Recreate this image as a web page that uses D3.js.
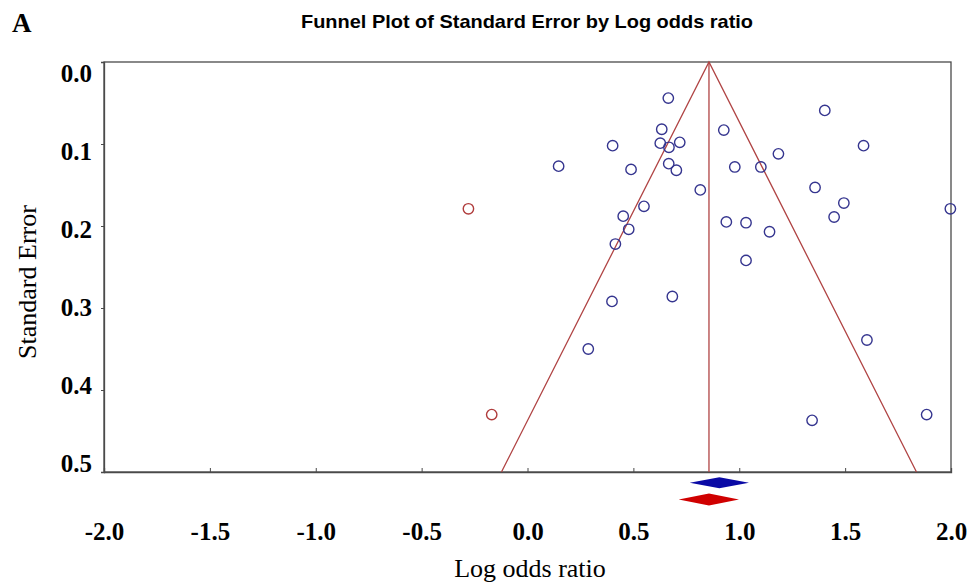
<!DOCTYPE html>
<html>
<head>
<meta charset="utf-8">
<script src="https://cdn.jsdelivr.net/npm/d3@7"></script>
<style>
    body { margin: 0; background: #fff; }
    svg { display: block; }
</style>
</head>
<body>
<div id="chart"></div>
<script>
// observed studies (blue circles)
const studyLogOR = [0.665, 0.634, 0.927, 0.402, 0.627, 0.668, 0.719, 0.147, 0.489, 0.667,
    0.703, 0.816, 1.404, 1.587, 1.185, 0.979, 1.102, 1.358, 1.494, 1.997,
    1.448, 0.939, 1.032, 1.143, 0.550, 0.452, 0.478, 0.415, 1.032, 0.399,
    0.684, 0.287, 1.603, 1.344, 1.885];
const studySE = [0.044, 0.082, 0.083, 0.102, 0.099, 0.104, 0.098, 0.127, 0.131, 0.124,
    0.132, 0.156, 0.059, 0.102, 0.112, 0.128, 0.128, 0.153, 0.172, 0.179,
    0.189, 0.195, 0.196, 0.207, 0.176, 0.188, 0.204, 0.222, 0.242, 0.292,
    0.286, 0.350, 0.339, 0.437, 0.430];
// imputed studies (red circles)
const imputedLogOR = [-0.279, -0.169];
const imputedSE = [0.179, 0.430];
// summary effects: [lower, point, upper]
const observedSummary = [0.766, 0.906, 1.046];
const adjustedSummary = [0.714, 0.857, 0.999];

const xTicks = [-2.0, -1.5, -1.0, -0.5, 0.0, 0.5, 1.0, 1.5, 2.0];
const yTicks = [0.0, 0.1, 0.2, 0.3, 0.4, 0.5];

const width = 972, height = 583;
const margin = {top: 62, right: 21, bottom: 111, left: 104};

const svg = d3.select("#chart").append("svg")
    .attr("width", width)
    .attr("height", height);

const x = d3.scaleLinear().domain([-2, 2]).range([margin.left, width - margin.right]);
const y = d3.scaleLinear().domain([0, 0.5]).range([margin.top, height - margin.bottom]);
// the program spreads the y labels a bit tighter than the ticks
const yLabel = d3.scaleLinear().domain([0, 0.5]).range([73, 462.5]);

const serif = "'Liberation Serif', 'Times New Roman', serif";
const axisColor = "#4a4a4a";
const lineRed = "#b04444";

// header
svg.append("text")
    .attr("x", 12).attr("y", 32)
    .style("font-family", serif)
    .style("font-weight", "bold")
    .style("font-size", "27px")
    .text("A");

svg.append("text")
    .attr("x", 527).attr("y", 28)
    .attr("text-anchor", "middle")
    .attr("textLength", 452)
    .attr("lengthAdjust", "spacingAndGlyphs")
    .style("font-family", "'Liberation Sans', Arial, sans-serif")
    .style("font-weight", "bold")
    .style("font-size", "18.5px")
    .text("Funnel Plot of Standard Error by Log odds ratio");

// frame
svg.append("rect")
    .attr("x", x(-2)).attr("y", y(0))
    .attr("width", x(2) - x(-2)).attr("height", y(0.5) - y(0))
    .attr("fill", "none")
    .attr("stroke", axisColor)
    .attr("stroke-width", 1.3);

// x axis, ticks pointing inward
const xAxis = svg.append("g")
    .attr("transform", `translate(0,${y(0.5)})`)
    .call(d3.axisBottom(x).tickValues(xTicks).tickSize(-4).tickFormat(d => d.toFixed(1)));
xAxis.select(".domain").attr("stroke", axisColor).attr("stroke-width", 1.3);
xAxis.selectAll(".tick line").attr("stroke", axisColor);
xAxis.selectAll(".tick text")
    .attr("y", 68).attr("dy", 0)
    .attr("fill", "#000")
    .style("font-family", serif)
    .style("font-weight", "bold")
    .style("font-size", "25px");

// y axis
const yAxis = svg.append("g")
    .attr("transform", `translate(${x(-2)},0)`)
    .call(d3.axisLeft(y).tickValues(yTicks).tickSize(3).tickFormat(d => d.toFixed(1)));
yAxis.select(".domain").attr("stroke", axisColor).attr("stroke-width", 1.3);
yAxis.selectAll(".tick line").attr("stroke", axisColor);
yAxis.selectAll(".tick text")
    .attr("x", -12)
    .attr("dy", "0.35em")
    .attr("transform", d => `translate(0,${yLabel(d) - y(d)})`)
    .attr("fill", "#000")
    .style("font-family", serif)
    .style("font-weight", "bold")
    .style("font-size", "25px");

// axis titles
svg.append("text")
    .attr("x", 530).attr("y", 577)
    .attr("text-anchor", "middle")
    .style("font-family", serif)
    .style("font-size", "26px")
    .text("Log odds ratio");

svg.append("text")
    .attr("transform", "translate(36,282) rotate(-90)")
    .attr("text-anchor", "middle")
    .style("font-family", serif)
    .style("font-size", "26px")
    .text("Standard Error");

// funnel: 95% limits around the adjusted estimate
const centre = adjustedSummary[1];
const funnel = [[centre - 1.96 * 0.5, 0.5], [centre, 0], [centre + 1.96 * 0.5, 0.5]];
svg.append("path")
    .attr("d", d3.line().x(d => x(d[0])).y(d => y(d[1]))(funnel))
    .attr("fill", "none")
    .attr("stroke", lineRed)
    .attr("stroke-width", 1.3);
svg.append("line")
    .attr("x1", x(centre)).attr("x2", x(centre))
    .attr("y1", y(0)).attr("y2", y(0.5))
    .attr("stroke", lineRed)
    .attr("stroke-width", 1.3);

// studies
const studies = studyLogOR.map((v, i) => ({lor: v, se: studySE[i]}));
svg.append("g")
    .selectAll("circle")
    .data(studies)
    .join("circle")
    .attr("cx", d => x(d.lor))
    .attr("cy", d => y(d.se))
    .attr("r", 5.2)
    .attr("fill", "none")
    .attr("stroke", "#35358f")
    .attr("stroke-width", 1.4);

const imputed = imputedLogOR.map((v, i) => ({lor: v, se: imputedSE[i]}));
svg.append("g")
    .selectAll("circle")
    .data(imputed)
    .join("circle")
    .attr("cx", d => x(d.lor))
    .attr("cy", d => y(d.se))
    .attr("r", 5.2)
    .attr("fill", "none")
    .attr("stroke", "#b03c3c")
    .attr("stroke-width", 1.4);

// summary diamonds under the axis
function diamond(s, cy, h) {
    return `M${x(s[0])},${cy} L${x(s[1])},${cy - h} L${x(s[2])},${cy} L${x(s[1])},${cy + h} Z`;
}
svg.append("path")
    .attr("d", diamond(observedSummary, y(0.5) + 10.7, 5.5))
    .attr("fill", "#0a0aa5");
svg.append("path")
    .attr("d", diamond(adjustedSummary, y(0.5) + 27.5, 6))
    .attr("fill", "#d00000");
</script>
</body>
</html>
